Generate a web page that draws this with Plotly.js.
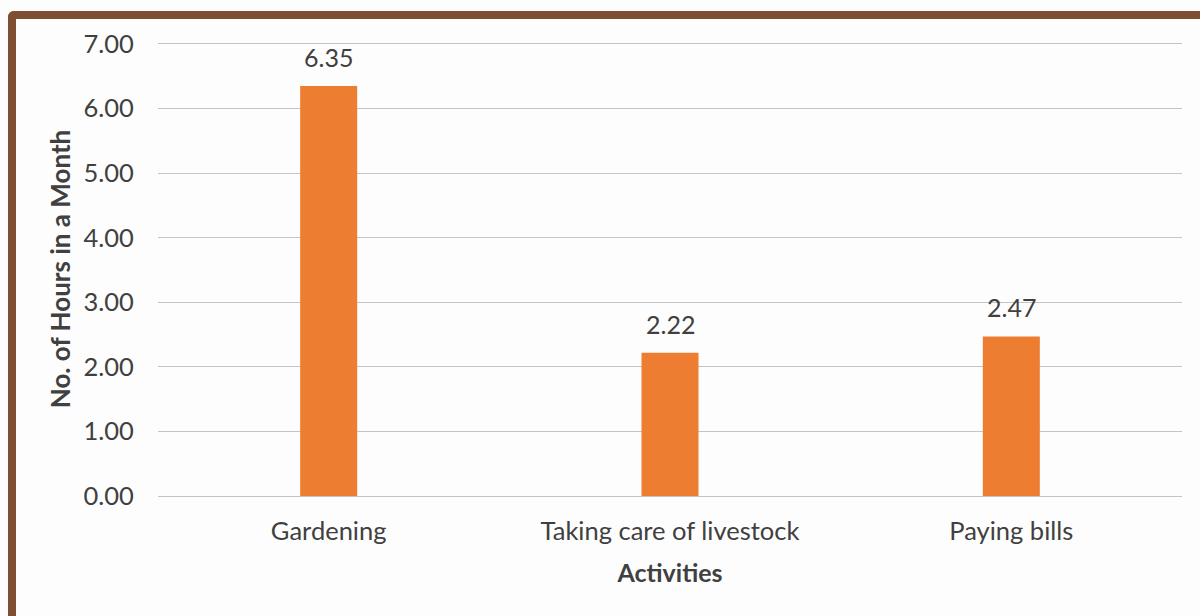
<!DOCTYPE html>
<html>
<head>
<meta charset="utf-8">
<script src="https://cdn.plot.ly/plotly-3.0.1.min.js"></script>
<style>
  html, body { margin: 0; padding: 0; background: #fdfdfd; }
  #wrap { position: relative; width: 1200px; height: 616px; overflow: hidden; }
  #chart { position: absolute; left: 0; top: 0; width: 1200px; height: 616px; }
  #frame {
    position: absolute; left: 8px; top: 11px; width: 1300px; height: 700px;
    border-top: 8px solid #7f4f33; border-left: 8px solid #7f4f33;
    border-top-left-radius: 6px; pointer-events: none; box-sizing: border-box;
  }
</style>
</head>
<body>
<div id="wrap">
  <div id="chart"></div>
  <div id="frame"></div>
</div>
<script>
// Monthly hours spent per activity
const activities = ["Gardening", "Taking care of livestock", "Paying bills"];
const hours = [6.35, 2.22, 2.47];
const yTicks = [0, 1, 2, 3, 4, 5, 6, 7];

const font = "Lato, 'Open Sans', sans-serif";
const ink = "#404040";

const trace = {
  type: "bar",
  x: activities,
  y: hours,
  width: 0.167,
  marker: { color: "#ed7d31" },
  hoverinfo: "x+y"
};

// value labels sitting a little above each bar
const labels = activities.map((a, i) => ({
  x: a,
  y: hours[i],
  xref: "x",
  yref: "y",
  text: hours[i].toFixed(2),
  showarrow: false,
  yanchor: "bottom",
  yshift: 12,
  font: { family: font, size: 25, color: ink }
}));

const layout = {
  width: 1200,
  height: 616,
  paper_bgcolor: "#fdfdfd",
  plot_bgcolor: "#fdfdfd",
  margin: { l: 158, r: 18, t: 42, b: 120 },
  showlegend: false,
  annotations: labels,
  xaxis: {
    type: "category",
    showgrid: false,
    showline: false,
    ticks: "outside",
    ticklen: 12,
    tickcolor: "rgba(0,0,0,0)",
    tickfont: { family: font, size: 25.5, color: ink },
    title: { text: "<b>Activities</b>", font: { family: font, size: 25, color: ink }, standoff: 20 }
  },
  yaxis: {
    range: [0, 7.03],
    tickvals: yTicks,
    tickformat: ".2f",
    showgrid: true,
    gridcolor: "#c4c4c4",
    gridwidth: 1,
    zeroline: true,
    zerolinecolor: "#c4c4c4",
    zerolinewidth: 1,
    showline: false,
    ticks: "outside",
    ticklen: 18,
    tickcolor: "rgba(0,0,0,0)",
    tickfont: { family: font, size: 25.5, color: ink },
    title: { text: "<b>No. of Hours in a Month</b>", font: { family: font, size: 26, color: ink }, standoff: 5 }
  }
};

Plotly.newPlot("chart", [trace], layout, { displayModeBar: false, staticPlot: true });
</script>
</body>
</html>
